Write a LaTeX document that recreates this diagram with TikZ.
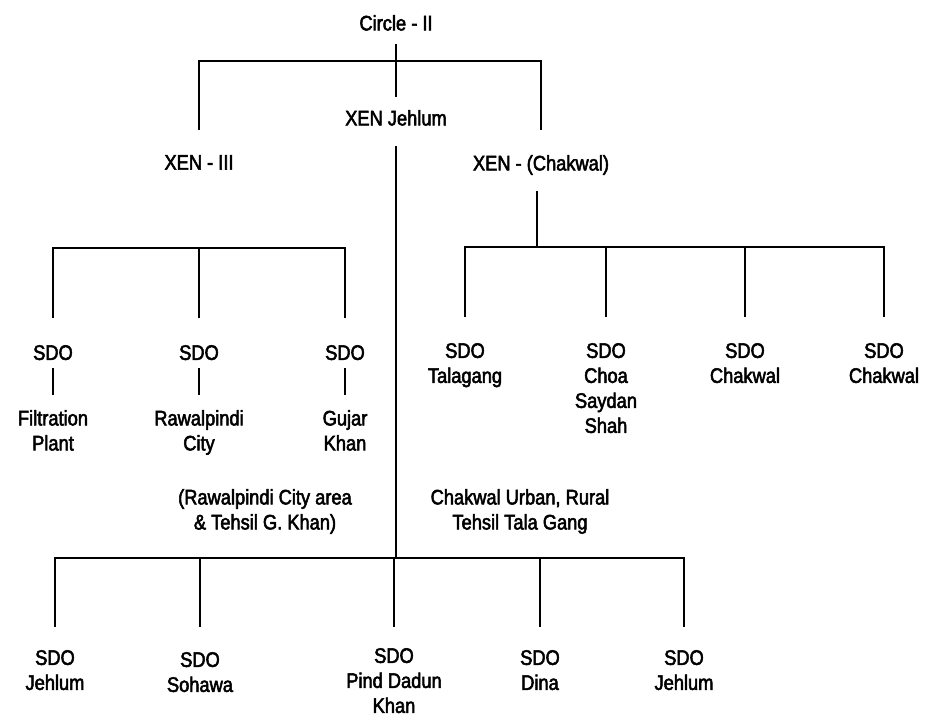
\documentclass[tikz,border=0pt]{standalone}
\usepackage{fontspec}
\setmainfont[FakeStretch=0.87,FakeBold=2.5]{Liberation Sans}
\begin{document}
\begin{tikzpicture}[x=1pt,y=-1pt,
  lbl/.style={font=\fontsize{21}{25}\selectfont, align=center, inner sep=0pt, anchor=north},
  conn/.style={line width=2.8pt, line join=miter}]
\useasboundingbox[fill=white] (0,0) rectangle (939,718);
% top level
\node[lbl] (circ) at (396,15) {Circle - II};
\node[lbl] (xenj) at (396,110) {XEN Jehlum};
\node[lbl] (xen3) at (199,155) {XEN - III};
\node[lbl] (xenc) at (541,155) {XEN - (Chakwal)};
% left group
\node[lbl] (l1) at (53,345) {SDO};
\node[lbl] (l2) at (199,345) {SDO};
\node[lbl] (l3) at (345,345) {SDO};
\node[lbl] (n1) at (53,410) {Filtration\\Plant};
\node[lbl] (n2) at (199,410) {Rawalpindi\\City};
\node[lbl] (n3) at (345,410) {Gujar\\Khan};
% right group
\node[lbl] (r1) at (465,343) {SDO\\Talagang};
\node[lbl] (r2) at (606,343) {SDO\\Choa\\Saydan\\Shah};
\node[lbl] (r3) at (745,343) {SDO\\Chakwal};
\node[lbl] (r4) at (884,343) {SDO\\Chakwal};
% annotations
\node[lbl] (a1) at (265,489) {(Rawalpindi City area\\\& Tehsil G. Khan)};
\node[lbl] (a2) at (520,489) {Chakwal Urban, Rural\\Tehsil Tala Gang};
% bottom group
\node[lbl] (b1) at (55,650) {SDO\\Jehlum};
\node[lbl] (b2) at (200,652) {SDO\\Sohawa};
\node[lbl] (b3) at (394,648) {SDO\\Pind Dadun\\Khan};
\node[lbl] (b4) at (540,650) {SDO\\Dina};
\node[lbl] (b5) at (684,650) {SDO\\Jehlum};
% bus coordinates
\coordinate (tbus) at (0,61);
\coordinate (lbus) at (0,248);
\coordinate (rbus) at (0,247);
\coordinate (bbus) at (0,558);
% connectors: top
\draw[conn, shorten <=13pt, shorten >=13pt] (circ.south) -- (xenj.north);
\draw[conn] ([yshift=25pt]xen3.north) -- (xen3.north |- tbus) -- (xenc.north |- tbus) -- ([yshift=25pt]xenc.north);
\draw[conn, shorten <=20pt] (xenj.south) -- (xenj.south |- bbus);
\draw[conn, shorten <=16pt] ([xshift=-4pt]xenc.south) -- ([xshift=-4pt]xenc.south |- rbus);
% left group
\draw[conn] ([yshift=27pt]l1.north) -- (l1.north |- lbus) -- (l3.north |- lbus) -- ([yshift=27pt]l3.north);
\draw[conn] (l2.north |- lbus) -- ([yshift=27pt]l2.north);
\draw[conn, shorten <=8pt, shorten >=15pt] (l1.south) -- (n1.north);
\draw[conn, shorten <=8pt, shorten >=15pt] (l2.south) -- (n2.north);
\draw[conn, shorten <=8pt, shorten >=15pt] (l3.south) -- (n3.north);
% right group
\draw[conn] ([yshift=26pt]r1.north) -- (r1.north |- rbus) -- (r4.north |- rbus) -- ([yshift=26pt]r4.north);
\draw[conn] (r2.north |- rbus) -- ([yshift=26pt]r2.north);
\draw[conn] (r3.north |- rbus) -- ([yshift=26pt]r3.north);
% bottom group
\draw[conn] ([yshift=23pt]b1.north) -- (b1.north |- bbus) -- (b5.north |- bbus) -- ([yshift=23pt]b5.north);
\draw[conn] (b2.north |- bbus) -- ([yshift=25pt]b2.north);
\draw[conn] (b3.north |- bbus) -- ([yshift=21pt]b3.north);
\draw[conn] (b4.north |- bbus) -- ([yshift=23pt]b4.north);
\end{tikzpicture}
\end{document}
